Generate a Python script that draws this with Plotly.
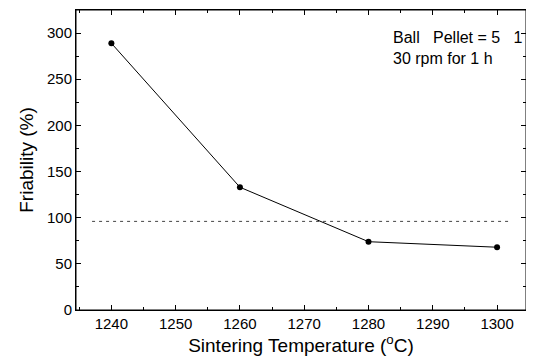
import plotly.graph_objects as go

temps = [1240, 1260, 1280, 1300]
friability = [289, 133, 74, 68]
ref_level = 96
x_ticks = [1240, 1250, 1260, 1270, 1280, 1290, 1300]
y_ticks = [0, 50, 100, 150, 200, 250, 300]

font_family = "Liberation Sans, Arial, sans-serif"

fig = go.Figure()
fig.add_trace(go.Scatter(
    x=[1237, 1302], y=[ref_level, ref_level], mode="lines",
    line=dict(color="#444", width=1, dash="3px,4px"), showlegend=False, hoverinfo="skip"))
fig.add_trace(go.Scatter(
    x=temps, y=friability, mode="lines+markers",
    line=dict(color="black", width=1),
    marker=dict(symbol="circle", size=6, color="black"),
    showlegend=False))

axis_common = dict(
    showline=True, linecolor="black", linewidth=1, mirror="ticks",
    ticks="inside", ticklen=5, tickcolor="black", showgrid=False, zeroline=False,
    automargin=False,
    tickfont=dict(size=15, color="black", family=font_family),
)

fig.update_xaxes(range=[1234.5, 1304.5], tickvals=x_ticks,
                 minor=dict(ticks="inside", ticklen=3, dtick=5, tick0=1235, tickcolor="black"),
                 title=dict(text="Sintering Temperature (<sup>o</sup>C)", font=dict(size=19, color="black", family=font_family), standoff=4),
                 **axis_common)
fig.update_yaxes(range=[0, 325], tickvals=y_ticks,
                 minor=dict(ticks="inside", ticklen=3, dtick=25, tickcolor="black"),
                 title=dict(text="Friability (%)", font=dict(size=19, color="black", family=font_family), standoff=8),
                 **axis_common)

fig.add_shape(type="rect", xref="paper", yref="paper", x0=0, x1=1, y0=0, y1=1,
              line=dict(color="black", width=1), layer="above")

fig.add_annotation(xref="paper", yref="paper", x=0.70, y=0.945, xanchor="left", yanchor="top",
                   text="Ball   Pellet = 5   1<br>30 rpm for 1 h", showarrow=False, align="left",
                   font=dict(size=16, color="black", family=font_family))

fig.update_layout(width=526, height=352, margin=dict(l=68, r=8, t=2, b=50),
                  plot_bgcolor="white", paper_bgcolor="white",
                  font=dict(family=font_family, color="black"))

fig.write_html("out.html")
